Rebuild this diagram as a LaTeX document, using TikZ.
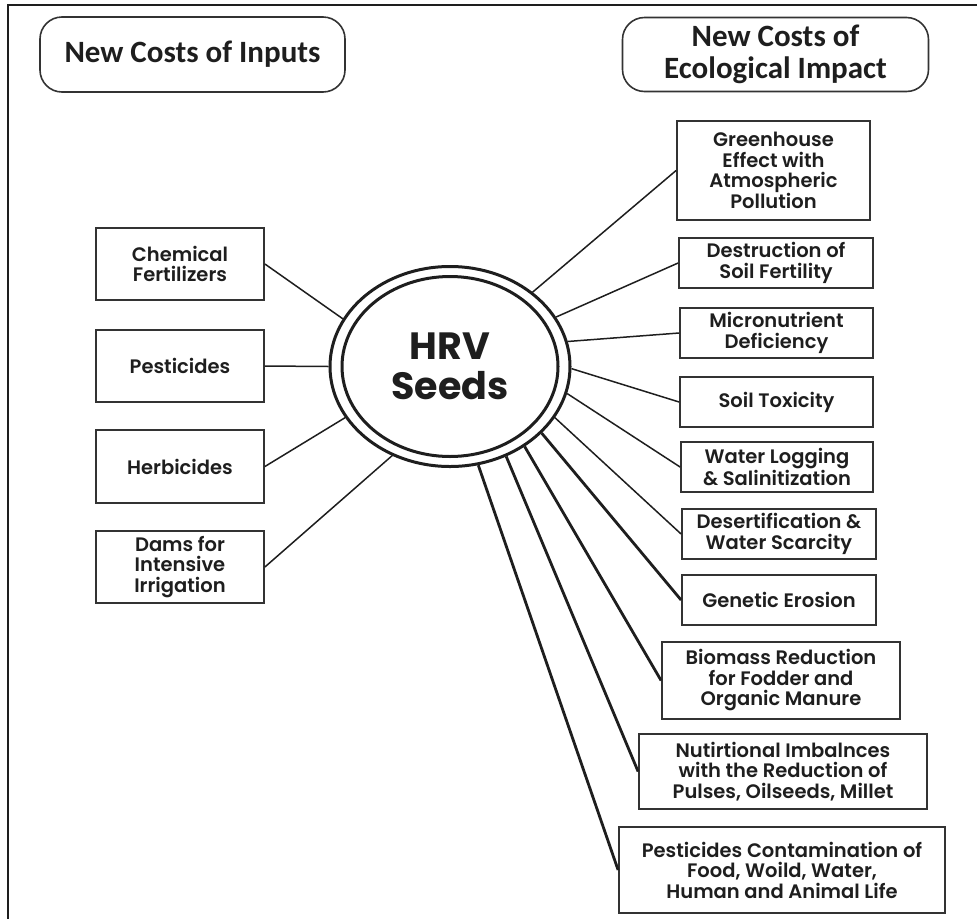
\documentclass[tikz,border=0pt]{standalone}
\usepackage{fontspec}
\setmainfont{Poppins}
\newfontfamily\boxfont{Poppins SemiBold}
\newfontfamily\titlefont{Carlito}
\usetikzlibrary{shapes.geometric}
\definecolor{ink}{HTML}{1E1E1E}
\definecolor{boxc}{HTML}{333333}
\tikzset{
  ibox/.style={draw=boxc, line width=1.8, align=center, text=ink, inner sep=0,
    font=\boxfont\fontsize{19.5}{20.5}\selectfont},
  tbox/.style={draw=boxc, line width=1.6, rounded corners=22, align=center, text=ink, inner sep=0,
    font=\titlefont\bfseries\fontsize{31}{32}\selectfont},
  thin/.style={draw=ink, line width=1.5},
  thick/.style={draw=ink, line width=2.8},
}
\begin{document}
\begin{tikzpicture}[x=1pt,y=-1pt]
\useasboundingbox (0,0) rectangle (977,919);
% frame
\coordinate (ftl) at (8,5);
\coordinate (ftr) at (977,5);
\coordinate (fbl) at (8,919);
\draw[ink, line width=1.5] (ftr) -- (ftl) -- (fbl);
% titles
\node[tbox, minimum width=305, minimum height=75] (tin) at (192.5,54.5) {New Costs of Inputs};
\node[tbox, minimum width=306, minimum height=74] (teco) at (775.5,54.5) {New Costs of\\Ecological Impact};
% center
\node[ellipse, draw=ink, line width=3, minimum width=240, minimum height=200, inner sep=0] (hrv) at (450,366.5) {};
\node[ellipse, draw=ink, line width=3, minimum width=216, minimum height=180, inner sep=0, align=center,
  text=ink, font=\bfseries\fontsize{38}{40}\selectfont] (hrvin) at (450,366.5) {HRV\\Seeds};
% left boxes
\node[ibox, minimum width=168, minimum height=72] (chem) at (180,264) {Chemical\\Fertilizers};
\node[ibox, minimum width=168, minimum height=72] (pest) at (180,366) {Pesticides};
\node[ibox, minimum width=168, minimum height=73] (herb) at (180,466.5) {Herbicides};
\node[ibox, minimum width=168, minimum height=72] (dams) at (180,567) {Dams for\\Intensive\\Irrigation};
% right boxes
\node[ibox, minimum width=193, minimum height=99] (green) at (773.5,170.5) {Greenhouse\\Effect with\\Atmospheric\\Pollution};
\node[ibox, minimum width=194, minimum height=50] (soilf) at (776,263) {Destruction of\\Soil Fertility};
\node[ibox, minimum width=193, minimum height=50] (micro) at (776.5,333) {Micronutrient\\Deficiency};
\node[ibox, minimum width=193, minimum height=50] (tox) at (776.5,402) {Soil Toxicity};
\node[ibox, minimum width=192, minimum height=50] (water) at (777,467) {Water Logging\\\& Salinitization};
\node[ibox, minimum width=194, minimum height=50] (desert) at (779,534) {Desertification \&\\Water Scarcity};
\node[ibox, minimum width=194, minimum height=50] (gene) at (779,600) {Genetic Erosion};
\node[ibox, minimum width=238, minimum height=77] (bio) at (781,680.5) {Biomass Reduction\\for Fodder and\\Organic Manure};
\node[ibox, minimum width=288, minimum height=75] (nutr) at (783,771.5) {Nutirtional Imbalnces\\with the Reduction of\\Pulses, Oilseeds, Millet};
\node[ibox, minimum width=326, minimum height=86] (cont) at (782,870) {Pesticides Contamination of\\Food, Woild, Water,\\Human and Animal Life};
% connectors left
\draw[thin] (chem.east) -- (hrv.156.5);
\draw[thin] (pest.east) -- (hrv.180);
\draw[thin] (herb.east) -- (hrv.206.8);
\draw[thin] (dams.east) -- (hrv.237.5);
% connectors right
\draw[thin] (hrv.42.5) -- (green.west);
\draw[thin] (hrv.25) -- (soilf.west);
\draw[thin] (hrv.12) -- (micro.west);
\draw[thin] (hrv.-1) -- (tox.west);
\draw[thin] (hrv.-13) -- (water.west);
\draw[thin] (hrv.-26) -- (desert.west);
\draw[thick] (hrv.-36.5) -- (gene.west);
\draw[thick] (hrv.-47) -- (bio.west);
\draw[thick] (hrv.-58) -- (nutr.west);
\draw[thick] (hrv.-74.6) -- (cont.west);
\end{tikzpicture}
\end{document}
